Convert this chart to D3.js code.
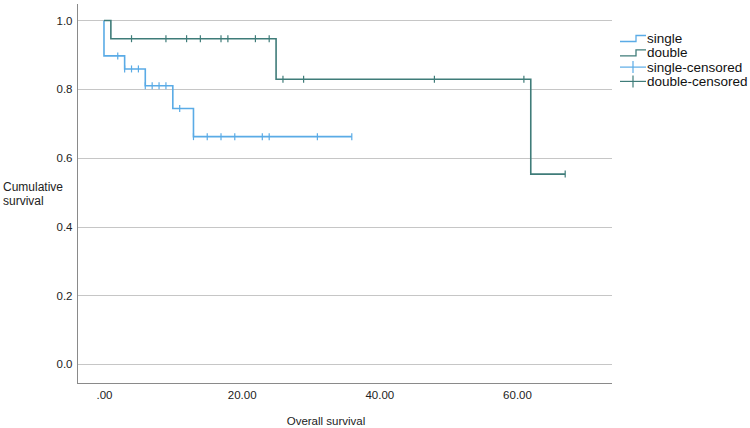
<!DOCTYPE html>
<html>
<head>
<meta charset="utf-8">
<script src="https://cdn.jsdelivr.net/npm/d3@7"></script>
<style>
  body { margin: 0; background: #fff; }
  svg { display: block; font-family: "Liberation Sans", Arial, sans-serif; }
</style>
</head>
<body>
<svg id="chart" width="750" height="428"></svg>
<script>
// ---- data ----
const singleStepTimes = [0, 0, 3, 6, 10, 13];
const singleStepSurv  = [1.0, 0.897, 0.859, 0.810, 0.744, 0.662];
const singleEndTime   = 36;
const singleCensored  = [2, 3, 4, 5, 6, 7, 8, 9, 11, 13, 15, 17, 19, 23, 24, 31, 36];

const doubleStepTimes = [0, 1, 25, 62];
const doubleStepSurv  = [1.0, 0.947, 0.829, 0.553];
const doubleEndTime   = 67;
const doubleCensored  = [4, 9, 12, 14, 17, 18, 22, 24, 26, 29, 48, 61, 67];

const yTicks = [0.0, 0.2, 0.4, 0.6, 0.8, 1.0];
const xTicks = [0, 20, 40, 60];
const legendLabels = ["single", "double", "single-censored", "double-censored"];

const colSingle = "#5aabe6";
const colDouble = "#3f7c79";

// ---- layout ----
const svg = d3.select("#chart");
const x = d3.scaleLinear().domain([-3.92, 73.8]).range([77, 612]);
const y = d3.scaleLinear().domain([-0.055, 1.048]).range([383, 4]);

// grid lines
svg.append("g").selectAll("line").data(yTicks).join("line")
  .attr("x1", 77).attr("x2", 612)
  .attr("y1", d => Math.round(y(d)) + 0.5).attr("y2", d => Math.round(y(d)) + 0.5)
  .attr("stroke", "#c6c6c6").attr("stroke-width", 1);

// axes via d3 axis (no tick marks)
const yAxis = svg.append("g").attr("transform", "translate(77.5,0)")
  .call(d3.axisLeft(y).tickValues(yTicks).tickSize(0).tickPadding(5).tickFormat(d3.format(".1f")));
yAxis.select(".domain").attr("stroke", "#8a8a8a").attr("d", "M0," + y.range()[1] + "V" + (y.range()[0] + 0.5));
yAxis.selectAll("text").attr("font-size", 11.5).attr("fill", "#222").attr("font-family", "Liberation Sans, Arial, sans-serif");

const xAxis = svg.append("g").attr("transform", "translate(0,383.5)")
  .call(d3.axisBottom(x).tickValues(xTicks).tickSize(0).tickPadding(7)
    .tickFormat(d => d === 0 ? ".00" : d3.format(".2f")(d)));
xAxis.select(".domain").attr("stroke", "#8a8a8a").attr("d", "M" + x.range()[0] + ",0H" + x.range()[1]);
xAxis.selectAll("text").attr("font-size", 11.5).attr("fill", "#222").attr("font-family", "Liberation Sans, Arial, sans-serif");

// axis titles
svg.append("text").attr("x", 326).attr("y", 425).attr("text-anchor", "middle")
  .attr("font-size", 11.5).attr("fill", "#222").text("Overall survival");
svg.append("text").attr("x", 3).attr("y", 191).attr("font-size", 12).attr("fill", "#222").text("Cumulative");
svg.append("text").attr("x", 3).attr("y", 205).attr("font-size", 12).attr("fill", "#222").text("survival");

// step curves
function stepPoints(times, surv, end) {
  const pts = [];
  for (let i = 0; i < times.length; i++) {
    pts.push([times[i], surv[i]]);
  }
  pts.push([end, surv[surv.length - 1]]);
  return pts;
}
function survAt(times, surv, t) {
  let s = surv[0];
  for (let i = 0; i < times.length; i++) if (times[i] <= t) s = surv[i];
  return s;
}
const line = d3.line().x(d => x(d[0])).y(d => y(d[1])).curve(d3.curveStepAfter);

svg.append("path").datum(stepPoints(singleStepTimes, singleStepSurv, singleEndTime))
  .attr("d", line).attr("fill", "none").attr("stroke", colSingle).attr("stroke-width", 1.6);
svg.append("path").datum(stepPoints(doubleStepTimes, doubleStepSurv, doubleEndTime))
  .attr("d", line).attr("fill", "none").attr("stroke", colDouble).attr("stroke-width", 1.6);

// censor marks
function censorMarks(times, stepT, stepS, col) {
  svg.append("g").selectAll("line").data(times).join("line")
    .attr("x1", d => x(d)).attr("x2", d => x(d))
    .attr("y1", d => y(survAt(stepT, stepS, d)) - 3.5)
    .attr("y2", d => y(survAt(stepT, stepS, d)) + 3.5)
    .attr("stroke", col).attr("stroke-width", 1.2);
}
censorMarks(singleCensored, singleStepTimes, singleStepSurv, colSingle);
censorMarks(doubleCensored, doubleStepTimes, doubleStepSurv, colDouble);

// legend
const lg = svg.append("g");
const lx = 620, ly0 = 38.5, ldy = 14.3;
legendLabels.forEach((lab, i) => {
  const cy = ly0 + i * ldy;
  const col = (i % 2 === 0) ? colSingle : colDouble;
  if (i < 2) {
    lg.append("path").attr("d", `M${lx},${cy + 3}H${lx + 16}V${cy - 3}H${lx + 26}`)
      .attr("fill", "none").attr("stroke", col).attr("stroke-width", 1.3);
  } else {
    lg.append("line").attr("x1", lx).attr("x2", lx + 26).attr("y1", cy).attr("y2", cy)
      .attr("stroke", col).attr("stroke-width", 1.2);
    lg.append("line").attr("x1", lx + 13).attr("x2", lx + 13).attr("y1", cy - 6).attr("y2", cy + 6)
      .attr("stroke", col).attr("stroke-width", 1.2);
  }
  lg.append("text").attr("x", lx + 27).attr("y", cy + 4.5).attr("font-size", 13.5)
    .attr("fill", "#111").text(lab);
});
</script>
</body>
</html>
